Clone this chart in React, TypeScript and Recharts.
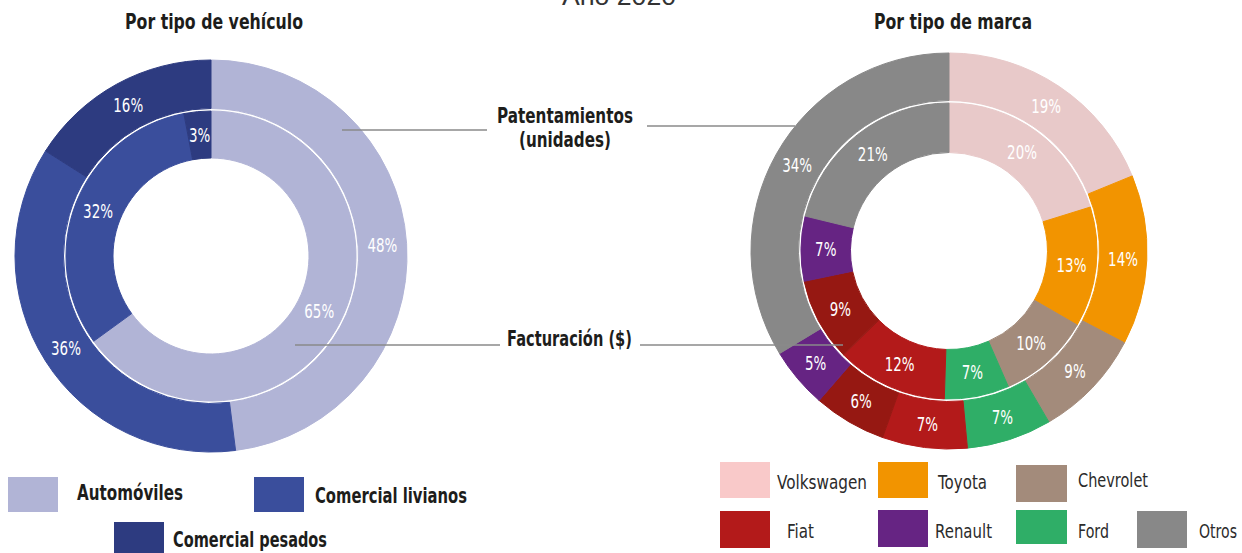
import { PieChart, Pie, Cell } from "recharts";

const vehicleNames = ["Automóviles", "Comercial livianos", "Comercial pesados"];
const vehicleColors = ["#b1b4d6", "#3a4e9c", "#2d3b80"];
const vehicleFacturacion = [65, 32, 3];
const vehiclePatentamientos = [48, 36, 16];

// the dark red slice has no entry in the legend
const brandNames = ["Volkswagen", "Toyota", "Chevrolet", "Ford", "Fiat", "Sin leyenda", "Renault", "Otros"];
const brandColors = ["#e8c9c9", "#f29400", "#a38b7b", "#2fae67", "#b31a1a", "#961812", "#662483", "#888888"];
const brandFacturacion = [20, 13, 10, 7, 12, 9, 7, 21];
const brandPatentamientos = [19, 14, 9, 7, 7, 6, 5, 34];

// legend: swatch box [x, y, w, h], text [x, baseline, width]
const vehicleLegend = [
  { name: "Automóviles", color: "#b1b4d6", box: [8, 477, 50, 35], text: [77, 500, 106] },
  { name: "Comercial livianos", color: "#3a4e9c", box: [254, 477, 50, 35], text: [315, 503, 152] },
  { name: "Comercial pesados", color: "#2d3b80", box: [114, 522, 50, 31], text: [173, 547, 154] },
];

const brandLegend = [
  { name: "Volkswagen", color: "#f9c9c9", box: [720, 462, 50, 36], text: [777, 489, 90] },
  { name: "Toyota", color: "#f29400", box: [878, 462, 50, 36], text: [938, 489, 49] },
  { name: "Chevrolet", color: "#a38b7b", box: [1016, 465, 51, 37], text: [1078, 487, 70] },
  { name: "Fiat", color: "#b31a1a", box: [720, 511, 50, 37], text: [787, 538, 27] },
  { name: "Renault", color: "#662483", box: [878, 510, 50, 37], text: [935, 538, 57] },
  { name: "Ford", color: "#2fae67", box: [1016, 510, 51, 34], text: [1078, 538, 31] },
  { name: "Otros", color: "#888888", box: [1137, 511, 50, 37], text: [1199, 538, 38] },
];

const toRows = (names: string[], values: number[]) =>
  names.map((name, i) => ({ name, value: values[i] }));

const FONT = "'DejaVu Sans', sans-serif";
const RAD = Math.PI / 180;

function ringLabel(props: any) {
  const { cx, cy, midAngle, innerRadius, outerRadius, value } = props;
  const r = (innerRadius + outerRadius) / 2;
  const x = cx + r * Math.cos(-midAngle * RAD);
  const y = cy + r * Math.sin(-midAngle * RAD);
  return (
    <text
      transform={`translate(${x},${y}) scale(0.69,1)`}
      x={0}
      y={0}
      fill="#fff"
      textAnchor="middle"
      dominantBaseline="central"
      fontSize={19.5}
      fontFamily={FONT}
    >
      {value}%
    </text>
  );
}

function Txt({ x, y, w, size = 21, bold = true, anchor = "start", fill = "#1d1d1b", children }: any) {
  return (
    <text
      x={x}
      y={y}
      fontSize={size}
      fontWeight={bold ? "bold" : "normal"}
      fontFamily={FONT}
      fill={fill}
      textAnchor={anchor}
      textLength={w}
      lengthAdjust="spacingAndGlyphs"
    >
      {children}
    </text>
  );
}

function Ring({ names, values, colors, cx, cy, inner, outer }: any) {
  return (
    <Pie
      data={toRows(names, values)}
      dataKey="value"
      nameKey="name"
      cx={cx}
      cy={cy}
      innerRadius={inner}
      outerRadius={outer}
      startAngle={90}
      endAngle={-270}
      label={ringLabel}
      labelLine={false}
      isAnimationActive={false}
    >
      {colors.map((c: string, i: number) => (
        <Cell key={i} fill={c} stroke={c} />
      ))}
    </Pie>
  );
}

export default function App() {
  return (
    <div style={{ position: "absolute", left: 0, top: 0, width: 1242, height: 553, overflow: "hidden", background: "#fff" }}>
      <PieChart width={1242} height={553} margin={{ top: 0, right: 0, bottom: 0, left: 0 }}>
        {Ring({ names: vehicleNames, values: vehicleFacturacion, colors: vehicleColors, cx: 211, cy: 256, inner: 98, outer: 145 })}
        {Ring({ names: vehicleNames, values: vehiclePatentamientos, colors: vehicleColors, cx: 211, cy: 256, inner: 147.5, outer: 196 })}
        {Ring({ names: brandNames, values: brandFacturacion, colors: brandColors, cx: 949, cy: 251, inner: 98.5, outer: 148 })}
        {Ring({ names: brandNames, values: brandPatentamientos, colors: brandColors, cx: 949, cy: 251, inner: 150.5, outer: 198 })}
      </PieChart>

      <svg width={1242} height={553} style={{ position: "absolute", left: 0, top: 0, pointerEvents: "none" }}>
        <g stroke="#8a8a8a" strokeWidth={1.5}>
          <line x1={342} y1={130} x2={487} y2={130} />
          <line x1={647} y1={126} x2={795} y2={126} />
          <line x1={295} y1={345} x2={500} y2={345} />
          <line x1={640} y1={345} x2={843} y2={345} />
        </g>

        <text x={619} y={5} textAnchor="middle" fontSize={26} fontFamily="'Liberation Sans', Arial, sans-serif" fill="#333" textLength={114} lengthAdjust="spacingAndGlyphs">
          Año 2020
        </text>

        <Txt x={214} y={29} w={178} anchor="middle">Por tipo de vehículo</Txt>
        <Txt x={953} y={29} w={158} anchor="middle">Por tipo de marca</Txt>

        <Txt x={565} y={123} w={136} anchor="middle">Patentamientos</Txt>
        <Txt x={565} y={147} w={92} anchor="middle">(unidades)</Txt>
        <Txt x={569.5} y={346} w={125} anchor="middle">Facturación ($)</Txt>

        {vehicleLegend.map((d) => (
          <g key={d.name}>
            <rect x={d.box[0]} y={d.box[1]} width={d.box[2]} height={d.box[3]} fill={d.color} />
            <Txt x={d.text[0]} y={d.text[1]} w={d.text[2]}>{d.name}</Txt>
          </g>
        ))}

        {brandLegend.map((d) => (
          <g key={d.name}>
            <rect x={d.box[0]} y={d.box[1]} width={d.box[2]} height={d.box[3]} fill={d.color} />
            <Txt x={d.text[0]} y={d.text[1]} w={d.text[2]} size={19.5} bold={false} fill="#2b2b2b">{d.name}</Txt>
          </g>
        ))}
      </svg>
    </div>
  );
}
